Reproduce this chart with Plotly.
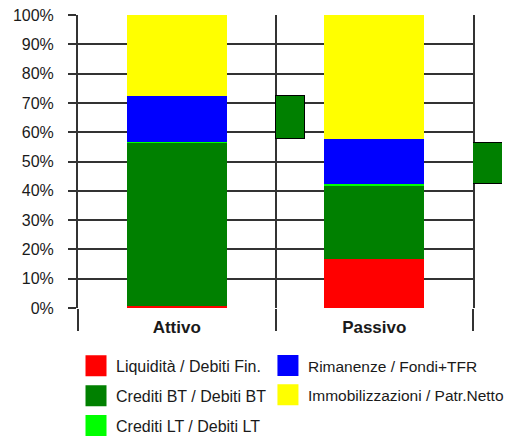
import plotly.graph_objects as go

categories = ["Attivo", "Passivo"]
liquidita = [0.8, 16.6]          # Liquidità / Debiti Fin.
crediti_bt = [55.7, 25.3]        # Crediti BT / Debiti BT
crediti_lt = [0.3, 0.3]          # Crediti LT / Debiti LT
rimanenze = [15.4, 15.4]         # Rimanenze / Fondi+TFR
immobilizzazioni = [27.8, 42.4]  # Immobilizzazioni / Patr.Netto

margin_base = [57.6, 42.2]
margin_top = [72.2, 56.3]

y_ticks = list(range(0, 101, 10))

series = [
    ("Liquidità / Debiti Fin.", liquidita, "#FF0000", "legend", 1),
    ("Crediti BT / Debiti BT", crediti_bt, "#008000", "legend", 2),
    ("Crediti LT / Debiti LT", crediti_lt, "#00FF00", "legend", 3),
    ("Rimanenze / Fondi+TFR", rimanenze, "#0000FF", "legend2", 1),
    ("Immobilizzazioni / Patr.Netto", immobilizzazioni, "#FFFF00", "legend2", 2),
]

FONT = "Liberation Sans, Arial, sans-serif"
TXT = "#1a1a1a"
LINE = "#333333"
xpos = [i + 0.5 for i in range(len(categories))]

# the page body adds an 8px offset, so the figure is 8px smaller
W, H = 506, 431
L, R, T, B = 70, 12, 7, 131
plot_w = W - L - R
main_px = 395
split = main_px / plot_w

fig = go.Figure()
for name, vals, color, leg, rank in series:
    fig.add_trace(go.Bar(
        x=xpos, y=vals, name=name, width=0.505,
        marker=dict(color=color, line=dict(width=0)),
        showlegend=False, legendgroup=name,
    ))
    # legend entry with a larger square swatch
    fig.add_trace(go.Scatter(
        x=[None], y=[None], mode="markers", name=name,
        marker=dict(symbol="square", size=16, color=color,
                    line=dict(color=color, width=5)),
        legend=leg, legendgroup=name, legendrank=rank, hoverinfo="skip",
    ))

# margin boxes: first at the category boundary inside the main subplot,
# second at the right edge (separate narrow subplot)
box_h = [t - b for t, b in zip(margin_top, margin_base)]
fig.add_trace(go.Bar(
    x=[1], y=[box_h[0]], base=[margin_base[0]], width=0.15, offset=0,
    marker=dict(color="#008000", line=dict(color="black", width=1.5)),
    showlegend=False,
))
fig.add_trace(go.Bar(
    x=[2], y=[box_h[1]], base=[margin_base[1]], width=0.15, offset=0,
    marker=dict(color="#008000", line=dict(color="black", width=1.5)),
    showlegend=False, xaxis="x2", yaxis="y2",
))

leg_common = dict(yanchor="top", xanchor="left", traceorder="grouped",
                  tracegroupgap=6, bgcolor="rgba(0,0,0,0)")

fig.update_layout(
    width=W, height=H,
    margin=dict(l=L, r=R, t=T, b=B, autoexpand=False),
    paper_bgcolor="white", plot_bgcolor="white",
    barmode="stack", bargap=0,
    font=dict(family=FONT, size=16, color=TXT),
    showlegend=True,
    legend=dict(x=-0.0047, y=-0.1397,
                font=dict(size=16, family=FONT, color=TXT), **leg_common),
    legend2=dict(x=0.448, y=-0.1397,
                 font=dict(size=15.5, family=FONT, color=TXT), **leg_common),
    xaxis=dict(
        domain=[0, split],
        range=[0, 2], tickvals=xpos,
        ticktext=["<b>%s</b>" % c for c in categories],
        ticks="", showgrid=False, zeroline=False, showline=False,
        ticklabelstandoff=7,
        tickfont=dict(size=17, family=FONT, color=TXT),
        minor=dict(tick0=0, dtick=1, ticks="outside", ticklen=22, tickcolor=LINE,
                   tickwidth=2, showgrid=True, gridcolor=LINE, gridwidth=2),
    ),
    yaxis=dict(
        range=[0, 100], tickvals=y_ticks, ticktext=["%d%%" % v for v in y_ticks],
        ticks="outside", ticklen=8, tickcolor=LINE, tickwidth=2,
        ticklabelstandoff=11, ticklabeloverflow="allow",
        showgrid=True, gridcolor=LINE, gridwidth=2,
        showline=True, linecolor=LINE, linewidth=2, mirror=True,
        zeroline=False, layer="below traces",
        tickfont=dict(size=16, family=FONT, color=TXT),
    ),
    xaxis2=dict(
        domain=[split, 1], range=[2, 2 + (plot_w - main_px) / (main_px / 2)],
        anchor="y2", visible=False, fixedrange=True,
    ),
    yaxis2=dict(
        range=[0, 100], anchor="x2", visible=False, fixedrange=True,
    ),
)

fig.write_html("out.html")
